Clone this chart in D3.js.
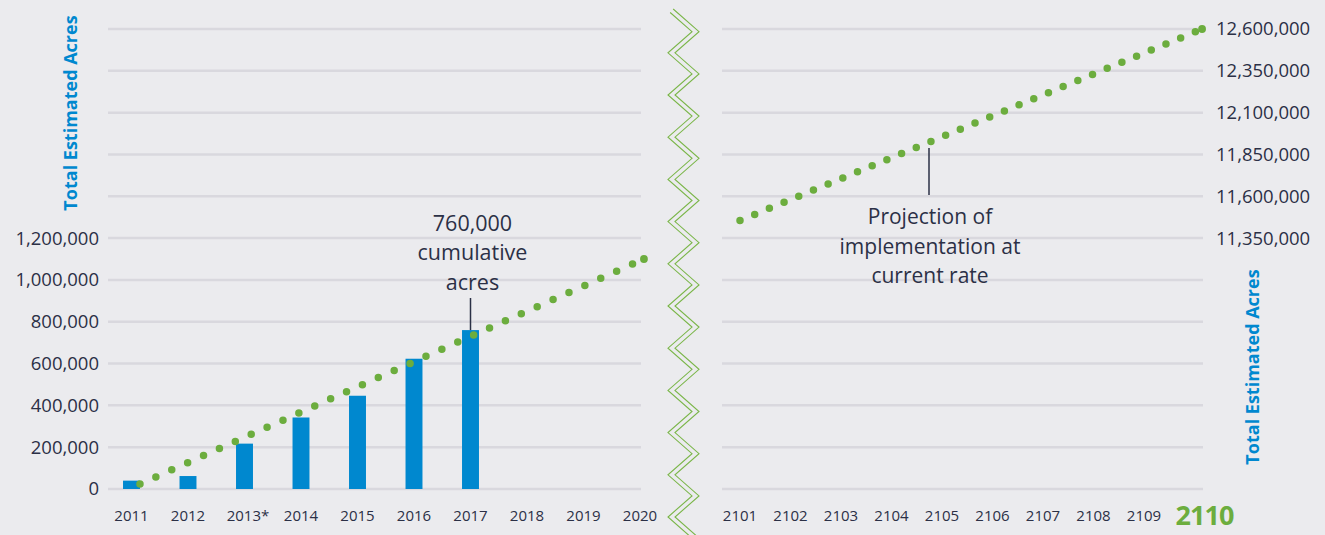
<!DOCTYPE html>
<html>
<head>
<meta charset="utf-8">
<script src="https://cdn.jsdelivr.net/npm/d3@7"></script>
<style>
  html, body { margin: 0; padding: 0; background: #ebebee; }
  svg { display: block; font-family: "Open Sans", sans-serif; }
</style>
</head>
<body>
<svg id="chart"></svg>
<script>
// data
const leftYears = ["2011", "2012", "2013", "2014", "2015", "2016", "2017", "2018", "2019", "2020"];
const leftYearLabels = ["2011", "2012", "2013*", "2014", "2015", "2016", "2017", "2018", "2019", "2020"];
const barYears = ["2011", "2012", "2013", "2014", "2015", "2016", "2017"];
const barValues = [40000, 62000, 217000, 342000, 446000, 623000, 760000];
const rightYears = ["2101", "2102", "2103", "2104", "2105", "2106", "2107", "2108", "2109", "2110"];
const leftTicks = [0, 200000, 400000, 600000, 800000, 1000000, 1200000];
const rightTicks = [11350000, 11600000, 11850000, 12100000, 12350000, 12600000];
// projection at current rate (start / end)
const projLeftYears = [2011.15, 2020.07];
const projLeftValues = [24000, 1100000];
const projRightYears = [2101, 2110.15];
const projRightValues = [11455000, 12600000];

const width = 1325;
const height = 535;
const blue = "#0088cf";
const green = "#6cad3e";
const ink = "#2b3046";
const gridColor = "#d9d8de";

const svg = d3.select("#chart")
  .attr("width", width)
  .attr("height", height);

// scales
const xL = d3.scaleBand()
  .domain(leftYears)
  .range([103.25, 668.25])
  .paddingInner(0.7)
  .paddingOuter(0.35);
const xLnum = d3.scaleLinear()
  .domain([2011, 2020])
  .range([xL("2011") + xL.bandwidth() / 2, xL("2020") + xL.bandwidth() / 2]);

const xR = d3.scalePoint()
  .domain(rightYears)
  .range([740, 1194.5]);
const xRnum = d3.scaleLinear()
  .domain([2101, 2110])
  .range([740, 1194.5]);

const yL = d3.scaleLinear().domain([0, 2200000]).range([489, 29]);
const yR = d3.scaleLinear().domain([9850000, 12600000]).range([489, 29]);

// gridlines
svg.append("g")
  .selectAll("line")
  .data(d3.range(0, 2200001, 200000))
  .join("line")
    .attr("x1", 108).attr("x2", 641)
    .attr("y1", yL).attr("y2", yL)
    .attr("stroke", gridColor)
    .attr("stroke-width", 2.5);

svg.append("g")
  .selectAll("line")
  .data(d3.range(9850000, 12600001, 250000))
  .join("line")
    .attr("x1", 722).attr("x2", 1203)
    .attr("y1", yR).attr("y2", yR)
    .attr("stroke", gridColor)
    .attr("stroke-width", 2.5);

// bars
svg.append("g")
  .selectAll("rect")
  .data(barYears.map((y, i) => ({year: y, value: barValues[i]})))
  .join("rect")
    .attr("x", d => xL(d.year))
    .attr("width", xL.bandwidth())
    .attr("y", d => yL(d.value))
    .attr("height", d => yL(0) - yL(d.value))
    .attr("fill", blue);

// projection dots
function dotted(xs, ys, xScale, yScale, gap) {
  const pts = xs.map((x, i) => [xScale(x), yScale(ys[i])]);
  svg.append("path")
    .attr("d", d3.line()(pts))
    .attr("fill", "none")
    .attr("stroke", green)
    .attr("stroke-width", 7.5)
    .attr("stroke-linecap", "round")
    .attr("stroke-dasharray", `0 ${gap}`);
  svg.append("circle")
    .attr("cx", pts[pts.length - 1][0])
    .attr("cy", pts[pts.length - 1][1])
    .attr("r", 3.9)
    .attr("fill", green);
}
dotted(projLeftYears, projLeftValues, xLnum, yL, 17.4);
dotted(projRightYears, projRightValues, xRnum, yR, 15.9);

// y tick labels
svg.append("g")
  .attr("text-anchor", "end")
  .attr("fill", ink)
  .style("font-size", "18.5px")
  .selectAll("text")
  .data(leftTicks)
  .join("text")
    .attr("x", 99)
    .attr("y", yL)
    .attr("dy", "0.35em")
    .text(d3.format(","));

svg.append("g")
  .attr("text-anchor", "start")
  .attr("fill", ink)
  .style("font-size", "18.5px")
  .selectAll("text")
  .data(rightTicks)
  .join("text")
    .attr("x", 1216)
    .attr("y", yR)
    .attr("dy", "0.35em")
    .text(d3.format(","));

// x labels
svg.append("g")
  .attr("text-anchor", "middle")
  .attr("fill", ink)
  .style("font-size", "15px")
  .selectAll("text")
  .data(leftYears)
  .join("text")
    .attr("x", d => xL(d) + xL.bandwidth() / 2)
    .attr("y", 516)
    .attr("dy", "0.35em")
    .attr("dx", (d, i) => leftYearLabels[i].endsWith("*") ? 3.5 : 0)
    .text((d, i) => leftYearLabels[i]);

svg.append("g")
  .attr("text-anchor", "middle")
  .selectAll("text")
  .data(rightYears)
  .join("text")
    .attr("x", d => xR(d))
    .attr("y", 516)
    .attr("dy", "0.35em")
    .attr("dx", (d, i) => i === rightYears.length - 1 ? 10 : 0)
    .attr("fill", (d, i) => i === rightYears.length - 1 ? green : ink)
    .style("font-size", (d, i) => i === rightYears.length - 1 ? "27px" : "15px")
    .style("font-weight", (d, i) => i === rightYears.length - 1 ? 700 : 400)
    .style("letter-spacing", (d, i) => i === rightYears.length - 1 ? "-1px" : null)
    .text(d => d);

// axis titles
const titleStyle = t => t
  .attr("text-anchor", "middle")
  .attr("fill", blue)
  .style("font-size", "18px")
  .style("font-weight", 700)
  .text("Total Estimated Acres");
svg.append("text")
  .attr("transform", "translate(71,113) rotate(-90)")
  .attr("dy", "0.35em")
  .call(titleStyle);
svg.append("text")
  .attr("transform", "translate(1253,367) rotate(-90)")
  .attr("dy", "0.35em")
  .call(titleStyle);

// annotations
function note(lines, cx, cy, size) {
  svg.append("g")
    .attr("text-anchor", "middle")
    .attr("fill", ink)
    .style("font-size", size + "px")
    .selectAll("text")
    .data(lines)
    .join("text")
      .attr("x", cx)
      .attr("y", (d, i) => cy + i * 29.5)
      .attr("dy", "0.35em")
      .text(d => d);
}
note(["760,000", "cumulative", "acres"], 472.5, 223, 21.5);
svg.append("line")
  .attr("x1", xL("2017") + xL.bandwidth() / 2).attr("x2", xL("2017") + xL.bandwidth() / 2)
  .attr("y1", 298).attr("y2", yL(barValues[6]))
  .attr("stroke", ink).attr("stroke-width", 1.5);

note(["Projection of", "implementation at", "current rate"], 930, 217, 21);
svg.append("line")
  .attr("x1", 929).attr("x2", 929)
  .attr("y1", 148).attr("y2", 195)
  .attr("stroke", ink).attr("stroke-width", 1.5);

// axis break: double zigzag
const period = 42.2;
[[675, 699, 9], [668, 692, 12.5]].forEach(([lx, rx, top]) => {
  const pts = [[lx + (rx - lx) * (top - 10.6) / 21.1, top]];
  for (let k = 0; k < 14; k++) {
    pts.push([rx, 31.7 + k * period]);
    pts.push([lx, 52.8 + k * period]);
  }
  svg.append("path")
    .attr("d", d3.line()(pts))
    .attr("fill", "none")
    .attr("stroke", "#7ab648")
    .attr("stroke-width", 1.1);
});
</script>
</body>
</html>
